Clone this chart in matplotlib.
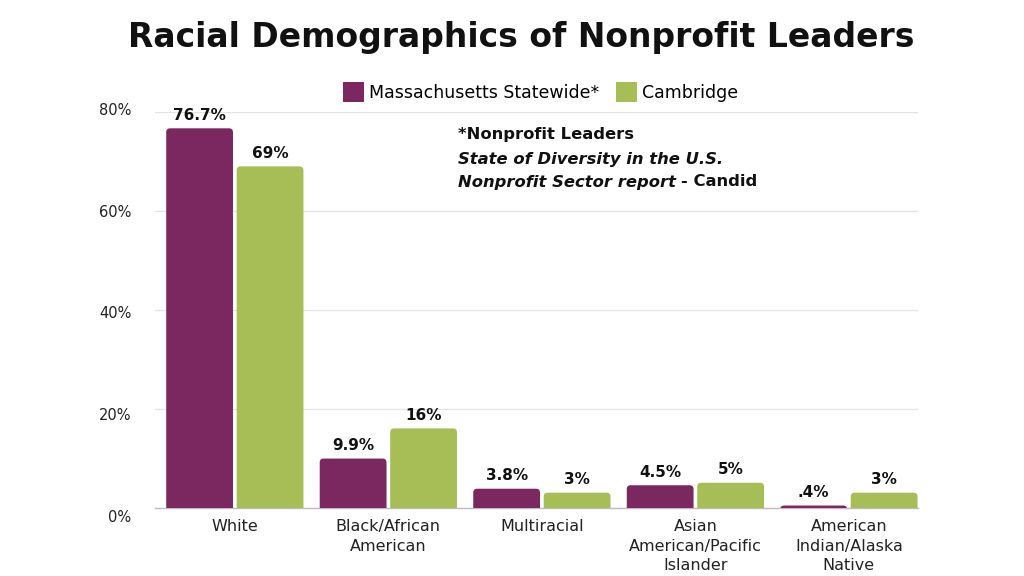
import matplotlib
matplotlib.use("Agg")
import matplotlib.pyplot as plt
from matplotlib.patches import FancyBboxPatch
import numpy as np

categories = ["White", "Black/African\nAmerican", "Multiracial",
              "Asian\nAmerican/Pacific\nIslander", "American\nIndian/Alaska\nNative"]
ma_values = [76.7, 9.9, 3.8, 4.5, 0.4]
cam_values = [69, 16, 3, 5, 3]
ma_labels = ["76.7%", "9.9%", "3.8%", "4.5%", ".4%"]
cam_labels = ["69%", "16%", "3%", "5%", "3%"]
series_names = ["Massachusetts Statewide*", "Cambridge"]
yticks = [0, 20, 40, 60, 80]

PURPLE = "#7B2860"
GREEN = "#A6BE55"

plt.rcParams['font.family'] = ['DejaVu Sans']

W, H = 1024, 576
fig = plt.figure(figsize=(10.24, 5.76), dpi=100)
ax = fig.add_axes([155/W, 1-507.5/H, (918-155)/W, (507.5-112)/H])

x = np.arange(len(categories))
w = 0.435
gap = 0.012
bars1 = ax.bar(x - w/2 - gap, ma_values, w, color=PURPLE, label=series_names[0])
bars2 = ax.bar(x + w/2 + gap, cam_values, w, color=GREEN, label=series_names[1])

# replace with rounded-top bars
for bars in (bars1, bars2):
    for b in bars:
        b.set_visible(False)
        bx, by = b.get_x(), b.get_y()
        bw, bh = b.get_width(), b.get_height()
        r = 0.025
        p = FancyBboxPatch((bx + r, by - 2), bw - 2*r, bh + 2 - 0.8,
                           boxstyle=f"round,pad={r}", mutation_aspect=32,
                           facecolor=b.get_facecolor(), edgecolor='none',
                           clip_on=True, zorder=3)
        ax.add_patch(p)

for xi, v, lab in zip(x - w/2 - gap, ma_values, ma_labels):
    ax.text(xi, v + 1.1, lab, ha='center', va='bottom', fontsize=11,
            fontweight='bold', color='#111111', clip_on=False)
for xi, v, lab in zip(x + w/2 + gap, cam_values, cam_labels):
    ax.text(xi, v + 1.1, lab, ha='center', va='bottom', fontsize=11,
            fontweight='bold', color='#111111', clip_on=False)

ax.set_xlim(-0.52, 4.45)
ax.set_ylim(0, 80)
ax.set_yticks(yticks)
ax.set_yticklabels([])
ax.set_xticks(x)
ax.set_xticklabels(categories, fontsize=11.5, color='#222222', linespacing=1.36)
ax.tick_params(axis='both', length=0)
ax.tick_params(axis='x', pad=8.5)
ax.grid(axis='y', color='#e3e3e3', linewidth=0.9, zorder=0)
ax.set_axisbelow(True)
for s in ['top', 'right', 'left']:
    ax.spines[s].set_visible(False)
ax.spines['bottom'].set_color('#bdbdbd')
ax.spines['bottom'].set_linewidth(1.0)

# y tick labels (slightly wider spacing than gridlines, as in the reference)
axl = fig.add_axes([155/W, 1-516/H, 0.001, (516-109)/H])
axl.set_ylim(0, 80)
axl.set_yticks(yticks)
axl.set_yticklabels([f"{t}%" for t in yticks], fontsize=10.5, color='#222222')
axl.tick_params(axis='y', length=0, pad=17)
axl.set_xticks([])
for s in axl.spines.values():
    s.set_visible(False)
axl.patch.set_visible(False)

leg = fig.legend(handles=[bars1, bars2], labels=series_names, loc='center',
                 bbox_to_anchor=(0.528, 1-92/H), ncol=2, frameon=False,
                 fontsize=12.5, handlelength=1.2, handleheight=1.4,
                 handletextpad=0.3, columnspacing=1.0)
for h in leg.legend_handles:
    h.set_visible(True)

fig.text(0.509, 1-38/H, "Racial Demographics of Nonprofit Leaders",
         ha='center', va='center', fontsize=23.8, fontweight='bold', color='#111111')

fs = 11.8
ax.text(458/W, 1-135/H, "*Nonprofit Leaders", transform=fig.transFigure,
        fontsize=fs, fontweight='bold', va='center', ha='left', color='#111111')
ax.text(458/W, 1-159/H, "State of Diversity in the U.S.", transform=fig.transFigure,
        fontsize=fs, fontweight='bold', style='italic', va='center', ha='left', color='#111111')
t1 = ax.text(458/W, 1-182/H, "Nonprofit Sector report", transform=fig.transFigure,
             fontsize=fs, fontweight='bold', style='italic', va='center', ha='left', color='#111111')
fig.canvas.draw()
bb = t1.get_window_extent()
ax.text(bb.x1/W + 0.005, 1-182/H, "- Candid", transform=fig.transFigure,
        fontsize=fs, fontweight='bold', va='center', ha='left', color='#111111')

fig.savefig("out.png", dpi=100)
